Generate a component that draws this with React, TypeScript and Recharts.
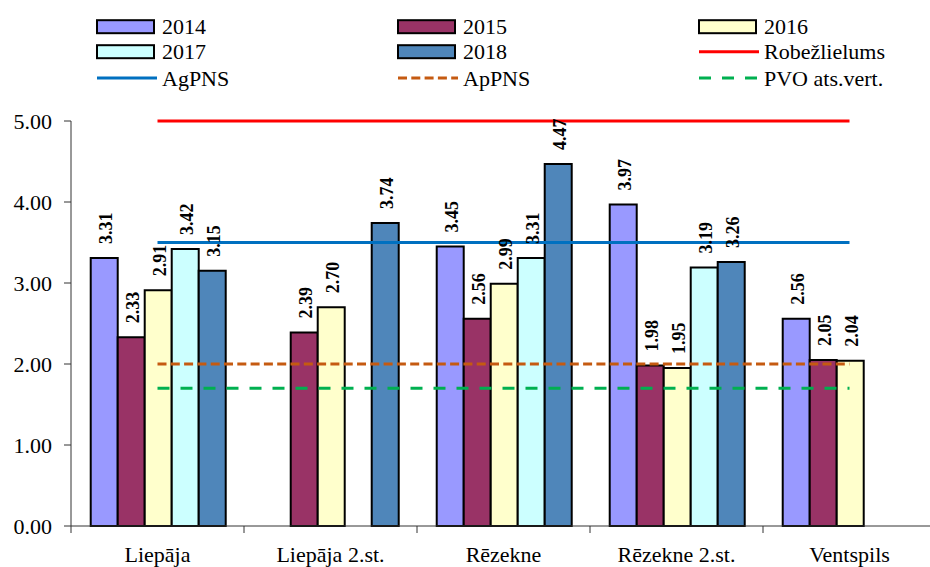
import React from 'react';
import { ComposedChart, Bar, Line, XAxis, YAxis, LabelList } from 'recharts';

const categories = ['Liepāja', 'Liepāja 2.st.', 'Rēzekne', 'Rēzekne 2.st.', 'Ventspils'];
const v2014 = [3.31, null, 3.45, 3.97, 2.56];
const v2015 = [2.33, 2.39, 2.56, 1.98, 2.05];
const v2016 = [2.91, 2.70, 2.99, 1.95, 2.04];
const v2017 = [3.42, null, 3.31, 3.19, null];
const v2018 = [3.15, 3.74, 4.47, 3.26, null];
const robezlielums = [5, 5, 5, 5, 5];
const agpns = [3.5, 3.5, 3.5, 3.5, 3.5];
const appns = [2, 2, 2, 2, 2];
const pvo = [1.7, 1.7, 1.7, 1.7, 1.7];
const yTicks = [0, 1, 2, 3, 4, 5];

const data = categories.map((name, i) => ({
  name,
  y2014: v2014[i],
  y2015: v2015[i],
  y2016: v2016[i],
  y2017: v2017[i],
  y2018: v2018[i],
  robez: robezlielums[i],
  ag: agpns[i],
  ap: appns[i],
  pvo: pvo[i],
}));

const FONT = "'Liberation Serif', 'Times New Roman', serif";

const barSeries = [
  { key: 'y2014', name: '2014', color: '#9999FF' },
  { key: 'y2015', name: '2015', color: '#993366' },
  { key: 'y2016', name: '2016', color: '#FFFFCC' },
  { key: 'y2017', name: '2017', color: '#CCFFFF' },
  { key: 'y2018', name: '2018', color: '#4F86BA' },
];

// rotated value label above each bar, skipped for empty cells
const ValueLabel = (props: any) => {
  const { x, y, width, value } = props;
  if (value === null || value === undefined) return null;
  const cx = x + width / 2 + 2;
  const cy = y - 14;
  return (
    <text
      x={cx}
      y={cy}
      transform={`rotate(-90, ${cx}, ${cy})`}
      textAnchor="start"
      dominantBaseline="central"
      style={{ fontFamily: FONT, fontWeight: 'bold', fontSize: 18 }}
      fill="#000"
    >
      {Number(value).toFixed(2)}
    </text>
  );
};

// label in the middle, tick mark on the category boundary
const CategoryTick = (props: any) => {
  const { x, payload } = props;
  const half = 86.5;
  return (
    <g>
      <line x1={x - half} y1={526} x2={x - half} y2={533} stroke="#333" strokeWidth={1} />
      <text x={x} y={562} textAnchor="middle" style={{ fontFamily: FONT, fontSize: 22 }} fill="#000">
        {payload.value}
      </text>
    </g>
  );
};

const YTick = (props: any) => {
  const { x, y, payload } = props;
  return (
    <text x={x} y={y} textAnchor="end" dominantBaseline="central" style={{ fontFamily: FONT, fontSize: 22 }} fill="#000">
      {Number(payload.value).toFixed(2)}
    </text>
  );
};

const legendCols = [97, 398, 699];
const legendRows = [26.7, 51.7, 78];
const legendItems = [
  { label: '2014', kind: 'box', color: '#9999FF' },
  { label: '2015', kind: 'box', color: '#993366' },
  { label: '2016', kind: 'box', color: '#FFFFCC' },
  { label: '2017', kind: 'box', color: '#CCFFFF' },
  { label: '2018', kind: 'box', color: '#4F86BA' },
  { label: 'Robežlielums', kind: 'line', color: '#FF0000' },
  { label: 'AgPNS', kind: 'line', color: '#0070C0' },
  { label: 'ApPNS', kind: 'dash', color: '#C55A11', dash: '9 4.3' },
  { label: 'PVO ats.vert.', kind: 'dash', color: '#00B050', dash: '12 11' },
];

const ChartLegend = () => (
  <svg width={930} height={100} style={{ position: 'absolute', left: 0, top: 0 }}>
    {legendItems.map((item, i) => {
      const x = legendCols[i % 3];
      const cy = legendRows[Math.floor(i / 3)];
      return (
        <g key={item.label}>
          {item.kind === 'box' ? (
            <rect x={x} y={cy - 6.5} width={57} height={13} fill={item.color} stroke="#000" strokeWidth={2} />
          ) : (
            <line
              x1={x}
              y1={cy}
              x2={x + 60}
              y2={cy}
              stroke={item.color}
              strokeWidth={3}
              strokeDasharray={item.kind === 'dash' ? item.dash : undefined}
            />
          )}
          <text x={x + 65} y={cy} dominantBaseline="central" style={{ fontFamily: FONT, fontSize: 22 }} fill="#000">
            {item.label}
          </text>
        </g>
      );
    })}
  </svg>
);

export default function App() {
  return (
    <div style={{ position: 'absolute', left: 0, top: 0, width: 930, height: 567, overflow: 'hidden', background: '#fff' }}>
      <ComposedChart
        width={940}
        height={567}
        data={data}
        margin={{ top: 121, right: 4, left: 0, bottom: 0 }}
        barCategoryGap="11.4%"
        barGap={0}
      >
        <XAxis
          dataKey="name"
          height={41}
          tickLine={false}
          axisLine={{ stroke: '#333', strokeWidth: 1 }}
          tick={<CategoryTick />}
          interval={0}
        />
        <YAxis
          width={71}
          domain={[0, 5]}
          ticks={yTicks}
          tickSize={7}
          tickMargin={12}
          axisLine={{ stroke: '#333', strokeWidth: 1 }}
          tickLine={{ stroke: '#333', strokeWidth: 1 }}
          tick={<YTick />}
        />
        {barSeries.map((s) => (
          <Bar key={s.key} dataKey={s.key} name={s.name} fill={s.color} stroke="#000" strokeWidth={2} isAnimationActive={false}>
            <LabelList dataKey={s.key} content={<ValueLabel />} />
          </Bar>
        ))}
        <Line dataKey="robez" stroke="#FF0000" strokeWidth={3} dot={false} activeDot={false} isAnimationActive={false} />
        <Line dataKey="ag" stroke="#0070C0" strokeWidth={3} dot={false} activeDot={false} isAnimationActive={false} />
        <Line dataKey="ap" stroke="#C55A11" strokeWidth={3} strokeDasharray="9 4.3" dot={false} activeDot={false} isAnimationActive={false} />
        <Line dataKey="pvo" stroke="#00B050" strokeWidth={3} strokeDasharray="12 11" dot={false} activeDot={false} isAnimationActive={false} />
      </ComposedChart>
      <ChartLegend />
    </div>
  );
}
